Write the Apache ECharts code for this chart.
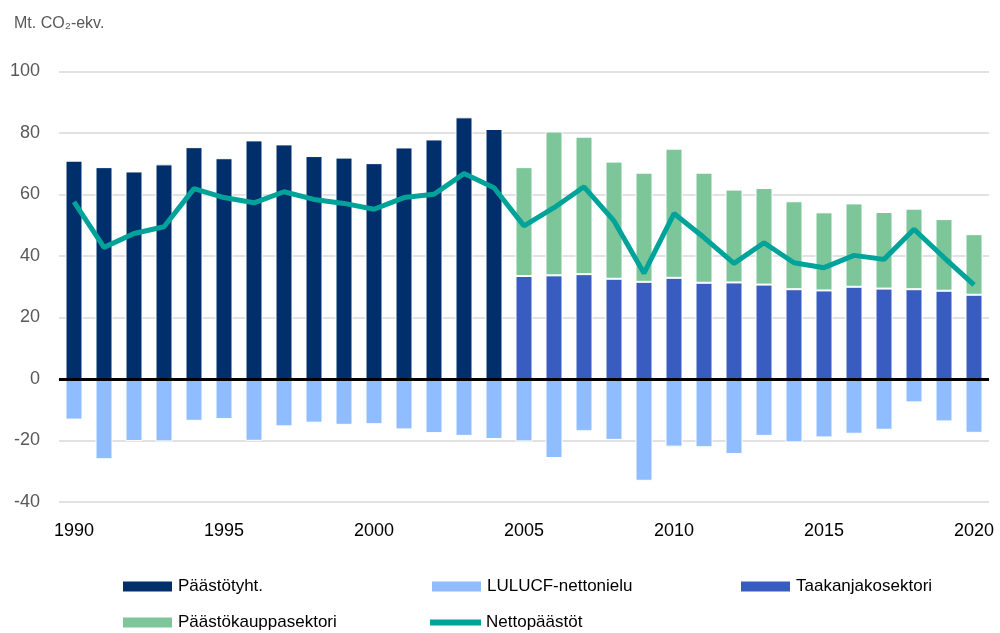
<!DOCTYPE html>
<html>
<head>
<meta charset="utf-8">
<script src="https://cdn.jsdelivr.net/npm/echarts@6/dist/echarts.min.js"></script>
<style>
  html, body { margin: 0; padding: 0; background: #fff; }
  #main { width: 1000px; height: 633px; }
</style>
</head>
<body>
<div id="main"></div>
<script>
var years = [];
for (var y = 1990; y <= 2020; y++) years.push(String(y));

// Päästöt yhteensä 1990-2004 (sen jälkeen jaettu sektoreihin)
var totalEmissions = [71.0, 68.9, 67.5, 69.8, 75.4, 71.8, 77.6, 76.3, 72.5, 72.0, 70.2, 75.3, 77.9, 85.1, 81.3,
  null, null, null, null, null, null, null, null, null, null, null, null, null, null, null, null];
var lulucf = [-13.2, -26.1, -20.2, -20.3, -13.6, -13.0, -20.1, -15.4, -14.2, -14.9, -14.7, -16.4, -17.6, -18.5, -19.5,
  -20.3, -25.7, -17.0, -19.8, -33.1, -22.0, -22.2, -24.4, -18.5, -20.6, -19.0, -17.8, -16.5, -7.6, -13.8, -17.5];
var effortSharing = [null, null, null, null, null, null, null, null, null, null, null, null, null, null, null,
  33.5, 33.7, 34.1, 32.6, 31.6, 32.9, 31.3, 31.4, 30.7, 29.2, 28.8, 30.0, 29.4, 29.2, 28.7, 27.4];
var emissionsTrading = [null, null, null, null, null, null, null, null, null, null, null, null, null, null, null,
  35.4, 46.8, 44.7, 38.1, 35.5, 42.0, 35.8, 30.2, 31.4, 28.6, 25.4, 27.1, 24.9, 26.2, 23.3, 19.7];
var netEmissions = [57.6, 42.8, 47.3, 49.5, 61.9, 59.0, 57.3, 60.9, 58.4, 57.1, 55.2, 59.0, 60.1, 66.8, 62.2,
  49.8, 55.7, 62.5, 51.4, 34.4, 53.8, 46.0, 37.6, 44.3, 37.8, 36.2, 40.2, 38.9, 48.7, 39.5, 30.6];
var yTicks = [-40, -20, 0, 20, 40, 60, 80, 100];

var fontMain = 'Liberation Sans, Arial, sans-serif';
var chart = echarts.init(document.getElementById('main'));

function legendAt(name, left, top, h) {
  return {
    data: [name],
    left: left,
    top: top,
    padding: 0,
    icon: 'rect',
    itemWidth: 51,
    itemHeight: h,
    itemGap: 0,
    selectedMode: false,
    textStyle: { color: '#000', fontSize: 17, fontFamily: fontMain }
  };
}

var barBase = {
  type: 'bar',
  stack: 'all',
  barWidth: 17
};

var option = {
  backgroundColor: '#fff',
  animation: false,
  title: {
    text: 'Mt. CO₂-ekv.',
    left: 9,
    top: 11,
    textStyle: { color: '#595959', fontSize: 16, fontWeight: 'normal', fontFamily: fontMain }
  },
  legend: [
    legendAt('Päästötyht.', 121, 578, 12),
    legendAt('LULUCF-nettonielu', 430, 578, 12),
    legendAt('Taakanjakosektori', 739, 578, 12),
    legendAt('Päästökauppasektori', 121, 614, 12),
    legendAt('Nettopäästöt', 430, 614, 6)
  ],
  grid: { left: 59, right: 11, top: 71.5, bottom: 131, containLabel: false },
  xAxis: {
    type: 'category',
    data: years,
    boundaryGap: true,
    axisLine: { show: false },
    axisTick: { show: false },
    axisLabel: {
      interval: 4,
      margin: 20,
      color: '#000',
      fontSize: 18,
      fontFamily: fontMain
    }
  },
  yAxis: {
    type: 'value',
    min: yTicks[0],
    max: yTicks[yTicks.length - 1],
    interval: 20,
    axisLine: { show: false },
    axisTick: { show: false },
    axisLabel: { color: '#595959', fontSize: 18, margin: 19, fontFamily: fontMain },
    splitLine: { lineStyle: { color: '#d9d9d9', width: 1.5 } }
  },
  series: [
    Object.assign({}, barBase, {
      name: 'Päästötyht.',
      data: totalEmissions,
      itemStyle: { color: '#002f6b', borderColor: '#fff', borderWidth: 1 },
      markLine: {
        silent: true,
        symbol: 'none',
        label: { show: false },
        lineStyle: { color: '#000', width: 3, type: 'solid' },
        data: [{ yAxis: 0 }]
      }
    }),
    Object.assign({}, barBase, {
      name: 'Taakanjakosektori',
      data: effortSharing,
      itemStyle: { color: '#385cbf', borderColor: '#fff', borderWidth: 1 }
    }),
    Object.assign({}, barBase, {
      name: 'Päästökauppasektori',
      data: emissionsTrading,
      itemStyle: { color: '#7cc699', borderColor: '#fff', borderWidth: 1 }
    }),
    Object.assign({}, barBase, {
      name: 'LULUCF-nettonielu',
      data: lulucf,
      itemStyle: { color: '#8fbdff', borderColor: '#fff', borderWidth: 1 }
    }),
    {
      name: 'Nettopäästöt',
      type: 'line',
      data: netEmissions,
      symbol: 'none',
      z: 5,
      lineStyle: { color: '#00a39a', width: 5 },
      itemStyle: { color: '#00a39a' }
    }
  ]
};

chart.setOption(option);
</script>
</body>
</html>
